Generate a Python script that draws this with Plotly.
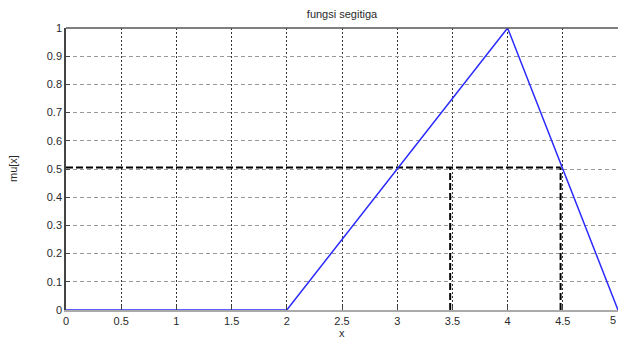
import plotly.graph_objects as go

# Data
x_vals = [0, 2, 4, 5]
mu_vals = [0, 0, 1, 0]
h_dash_x = [0, 4.48]
h_dash_y = [0.505, 0.505]
v1_dash_x = [3.48, 3.48]
v1_dash_y = [0, 0.505]
v2_dash_x = [4.48, 4.48]
v2_dash_y = [0, 0.505]
x_ticks = [0, 0.5, 1, 1.5, 2, 2.5, 3, 3.5, 4, 4.5, 5]
x_tick_text = ["0", "0.5", "1", "1.5", "2", "2.5", "3", "3.5", "4", "4.5", "5"]
y_ticks = [0, 0.1, 0.2, 0.3, 0.4, 0.5, 0.6, 0.7, 0.8, 0.9, 1]
y_tick_text = ["0", "0.1", "0.2", "0.3", "0.4", "0.5", "0.6", "0.7", "0.8", "0.9", "1"]

dash_style = dict(color="black", width=2, dash="7px,3px")

fig = go.Figure()
fig.add_trace(go.Scatter(x=h_dash_x, y=h_dash_y, mode="lines", line=dash_style, showlegend=False))
fig.add_trace(go.Scatter(x=v1_dash_x, y=v1_dash_y, mode="lines", line=dash_style, showlegend=False))
fig.add_trace(go.Scatter(x=v2_dash_x, y=v2_dash_y, mode="lines", line=dash_style, showlegend=False))
fig.add_trace(go.Scatter(x=x_vals, y=mu_vals, mode="lines",
                         line=dict(color="#2a2aff", width=1.5), showlegend=False))

font = dict(family="Liberation Sans, Arial, sans-serif", size=11, color="#2a2a2a")

fig.update_layout(
    width=619, height=340,
    margin=dict(l=66, r=1, t=28, b=30, autoexpand=False),
    paper_bgcolor="white", plot_bgcolor="white",
    font=font,
    title=dict(text="fungsi segitiga", x=342 / 619, xanchor="center",
               y=1 - 14 / 340, yanchor="middle", font=dict(size=11, color="#2a2a2a")),
    xaxis=dict(range=[0, 5], tickvals=x_ticks, ticktext=x_tick_text,
               showgrid=True, gridcolor="#333", griddash="2px,2px", gridwidth=1,
               showline=True, linecolor="#aaa", linewidth=1.5,
               ticks="inside", ticklen=4, tickcolor="#444",
               zeroline=False, tickfont=font, fixedrange=True),
    yaxis=dict(range=[0, 1], tickvals=y_ticks, ticktext=y_tick_text,
               showgrid=True, gridcolor="#999", griddash="4px,3px", gridwidth=1,
               showline=True, linecolor="#444", linewidth=1.5,
               ticks="inside", ticklen=4, tickcolor="#444",
               zeroline=False, tickfont=font, fixedrange=True),
    shapes=[dict(type="line", xref="paper", yref="paper", x0=0, x1=1, y0=1, y1=1,
                 line=dict(color="#555", width=1.5))],
    annotations=[
        dict(text=x_tick_text[-1], xref="x", yref="paper", x=x_ticks[-1], y=0, yshift=-10,
             showarrow=False, font=font, xanchor="right", yanchor="middle"),
        dict(text="x", xref="paper", yref="paper", x=0.5, y=0, yshift=-23,
             showarrow=False, font=font, xanchor="center", yanchor="middle"),
        dict(text="mu[x]", xref="paper", yref="paper", x=0, y=0.5, xshift=-53,
             showarrow=False, font=font, textangle=-90, xanchor="center", yanchor="middle"),
    ],
)

fig.write_html("out.html", config={"displayModeBar": False},
               post_script="document.body.style.margin='0';document.body.style.overflow='hidden';")
